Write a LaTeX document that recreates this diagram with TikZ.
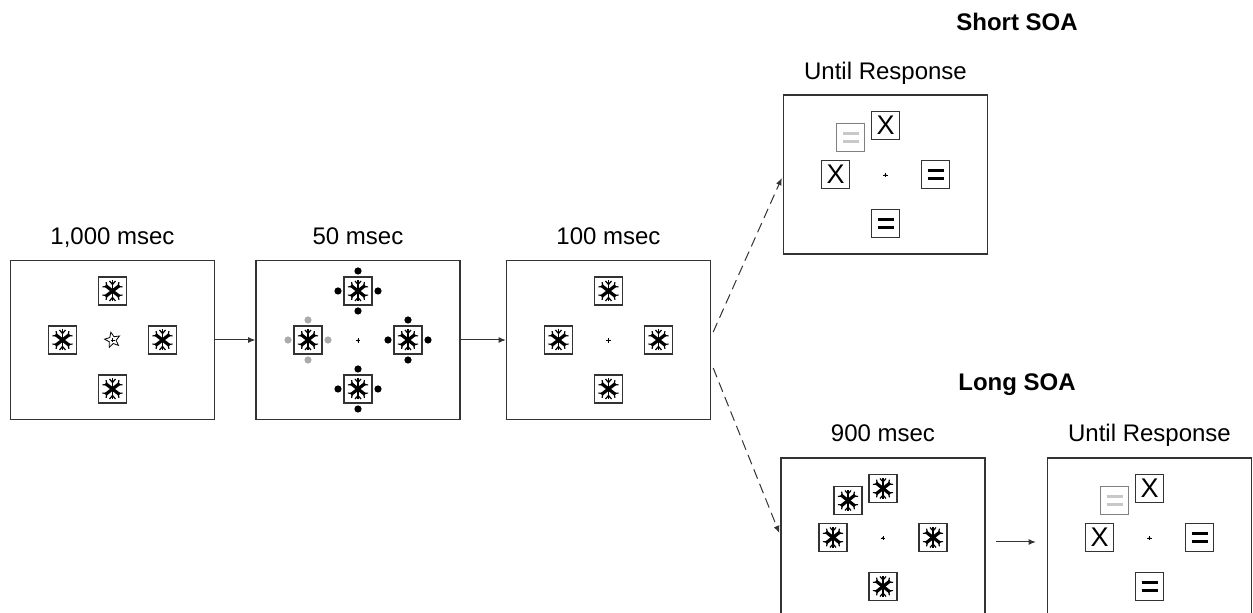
\documentclass[tikz,border=0pt]{standalone}
\usepackage{fontspec}
\setmainfont{Liberation Sans}
\usetikzlibrary{arrows.meta,positioning,shapes.geometric,calc}
\definecolor{FrameGrey}{HTML}{333333}
\definecolor{CueGrey}{HTML}{ABABAB}
\definecolor{DimGrey}{HTML}{C8C8C8}
\tikzset{
  frame/.style={draw=FrameGrey,line width=0.7pt,fill=white,minimum width=102pt,
    minimum height=79.5pt,inner sep=0pt},
  holder/.style={draw=FrameGrey,line width=0.55pt,fill=white,minimum size=14pt,
    inner sep=0pt,font=\fontsize{13.5}{13.5}\selectfont},
  dimholder/.style={holder,draw=gray},
  lbl/.style={anchor=base,font=\fontsize{12}{14}\selectfont},
  head/.style={anchor=base,font=\fontsize{12}{14}\selectfont\bfseries},
  flow/.style={-{Latex[length=3.6pt,width=3pt]},line width=0.5pt,draw=FrameGrey},
  branch/.style={flow,dash pattern=on 5pt off 2.8pt},
  flake/.pic={
    \draw[line width=0.65pt] (0,-10.5) -- (0,10.5);
    \foreach \a in {38,142,218,322}
      \draw[line width=1.6pt,rotate=\a] (0,0) -- (9,0);
    \foreach \a in {38,142,218,322}
      \draw[line width=0.6pt,rotate=\a] (10.5,-3) -- (7,0) -- (10.5,3);
    \foreach \a in {90,270}
      \draw[line width=0.6pt,rotate=\a] (10,-3) -- (6.5,0) -- (10,3);
    \fill (0,0) circle (2.2);
  },
  eqbars/.pic={
    \draw[line width=1.35pt] (-8,-4) -- (8,-4) (-8,4) -- (8,4);
  },
  fixpt/.pic={
    \fill (0,0) circle (1.1);
    \draw[line width=0.35pt] (-2.4,0) -- (2.4,0) (0,-2.4) -- (0,2.4);
  }
}

\begin{document}
\begin{tikzpicture}[x=0.5pt,y=-0.5pt]
  \clip (0,0) rectangle (1253,613);
  % displays
  \node[frame] (fixdisp) at (112.5,340) {};
  \node[frame] (cuedisp) at (358,340) {};
  \node[frame] (maskdisp) at (608.5,340) {};
  \node[frame] (shortresp) at (885.5,174.5) {};
  \node[frame] (longmask) at (883,537.5) {};
  \node[frame] (longresp) at (1149.5,537.5) {};

  % timing labels
  \node[lbl] (fixtime) at (112.5,245) {1,000 msec};
  \node[lbl] (cuetime) at (358,245) {50 msec};
  \node[lbl] (masktime) at (608.5,245) {100 msec};
  \node[head] (shorthead) at (1017,31) {Short SOA};
  \node[lbl] (shorttime) at (885.5,80) {Until Response};
  \node[head] (longhead) at (1017,391) {Long SOA};
  \node[lbl] (longmasktime) at (883,442) {900 msec};
  \node[lbl] (longresptime) at (1149.5,442) {Until Response};

  % placeholders
  \foreach \f in {fixdisp,cuedisp,maskdisp,longmask}{
    \foreach \n/\dx/\dy in {t/0/-49,l/-50/0,r/50/0,b/0/49}{
      \node[holder] (\f-\n) at ([shift={(\dx,\dy)}]\f.center) {};
      \pic at (\f-\n) {flake};
    }
  }
  \node[holder] (longmask-d) at ([shift={(-35,-37)}]longmask.center) {};
  \pic at (longmask-d) {flake};

  % fixation
  \node[star,star points=5,star point ratio=2.2,draw,line width=0.4pt,
    minimum size=8pt,inner sep=0pt,rotate=12] (fixstar) at (fixdisp) {};
  \draw[line width=0.35pt] ([xshift=-1pt]fixstar.center) -- ([xshift=1pt]fixstar.center)
    ([yshift=-1pt]fixstar.center) -- ([yshift=1pt]fixstar.center);
  \foreach \f in {cuedisp,maskdisp,longmask,longresp}
    \pic at ([yshift=-0.25pt]\f.center) {fixpt};
  \pic at ([yshift=-0.25pt]shortresp.center) {fixpt};

  % cue dots
  \foreach \n in {t,r,b}
    \foreach \a in {0,90,180,270}
      \fill ([shift={(\a:20)}]cuedisp-\n.center) circle (3.6);
  \foreach \a in {0,90,180,270}
    \fill[CueGrey] ([shift={(\a:20)}]cuedisp-l.center) circle (3.6);

  % response displays
  \foreach \f in {shortresp,longresp}{
    \node[holder] (\f-t) at ([shift={(0,-49)}]\f.center) {X};
    \node[holder] (\f-l) at ([shift={(-50,0)}]\f.center) {X};
    \node[holder] (\f-r) at ([shift={(50,0)}]\f.center) {};
    \node[holder] (\f-b) at ([shift={(0,49)}]\f.center) {};
    \node[dimholder] (\f-d) at ([shift={(-35,-37)}]\f.center) {};
    \pic at (\f-r) {eqbars};
    \pic at (\f-b) {eqbars};
    \pic[DimGrey] at (\f-d) {eqbars};
  }

  % sequence
  \draw[flow] (fixdisp) -- (cuedisp);
  \draw[flow] (cuedisp) -- (maskdisp);
  \draw[flow] ($(longmask.east)+(10,4.5)$) -- ($(longresp.west)+(-11,4.5)$);
  \draw[branch] ($(maskdisp.east)+(2,-8)$) -- ($(shortresp.west)+(-1,3.5)$);
  \draw[branch] ($(maskdisp.east)+(2,28)$) -- ($(longmask.west)+(-1,-4.5)$);
\end{tikzpicture}
\end{document}
